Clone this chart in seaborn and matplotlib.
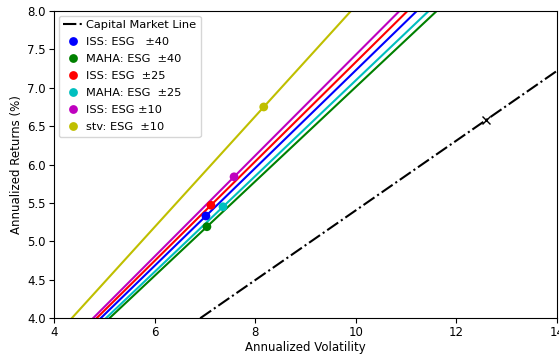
import numpy as np
import pandas as pd
import matplotlib
matplotlib.use("Agg")
import matplotlib.pyplot as plt
import seaborn as sns

# ── Data ──────────────────────────────────────────────────
RISK_FREE   = 0.86
LABELS      = ["ISS: ESG   \u00b140", "MAHA: ESG  \u00b140", "ISS: ESG  \u00b125",
               "MAHA: ESG  \u00b125", "ISS: ESG \u00b110", "stv: ESG  \u00b110"]
VOLATILITY  = [7.02, 7.04, 7.12, 7.36, 7.58, 8.17]
RETURNS     = [5.33, 5.19, 5.47, 5.45, 5.84, 6.75]
COLORS      = ["b", "g", "r", "c", "m", "y"]
TANGENCY    = (12.59, 6.58)
CML_X       = [0.0, TANGENCY[0], 20.0]

df = pd.DataFrame({"label": LABELS, "vol": VOLATILITY, "ret": RETURNS})

plt.rcParams["font.size"] = 9
fig = plt.figure(figsize=(5.59, 3.55), dpi=100)
ax = fig.add_axes([0.0966, 0.104, 0.8998, 0.865])

# capital market line through the tangency portfolio
cml_slope = (TANGENCY[1] - RISK_FREE) / TANGENCY[0]
cml_y = [RISK_FREE + cml_slope * x for x in CML_X]
ax.plot(CML_X, cml_y, color="k", linestyle="-.", linewidth=1.5,
        label="Capital Market Line")
ax.plot(*TANGENCY, marker="x", color="k", markersize=6, markeredgewidth=1)

# capital allocation lines for each ESG-screened portfolio
for v, r, c in zip(VOLATILITY, RETURNS, COLORS):
    ax.axline((0, RISK_FREE), (v, r), color=c, linewidth=1.5, zorder=1)

sns.scatterplot(data=df, x="vol", y="ret", hue="label", palette=COLORS,
                s=40, edgecolor="none", zorder=3, ax=ax)

ax.set_xlim(4, 14)
ax.set_ylim(4, 8)
ax.set_xticks([4, 6, 8, 10, 12, 14])
ax.set_yticks(np.arange(4.0, 8.01, 0.5))
ax.tick_params(labelsize=8.5, pad=2.5)
ax.set_xlabel("Annualized Volatility", fontsize=8.5, labelpad=1)
ax.set_ylabel("Annualized Returns (%)", fontsize=8.5, labelpad=3)
ax.legend(loc="upper left", fontsize=8.2, handletextpad=0.3,
          borderaxespad=0.4, labelspacing=0.62, handlelength=1.7)

fig.savefig("out.png", dpi=100)
